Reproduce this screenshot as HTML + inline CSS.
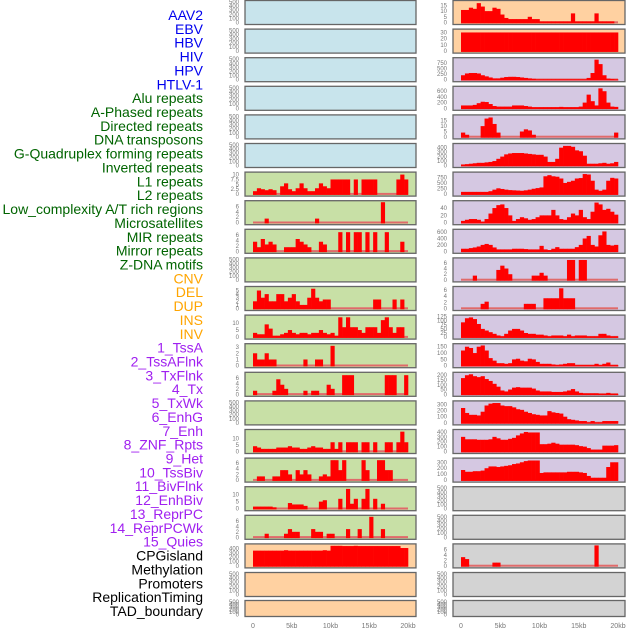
<!DOCTYPE html>
<html><head><meta charset="utf-8"><style>
html,body{margin:0;padding:0;background:#fff;}
svg{display:block;font-family:"Liberation Sans",sans-serif;}
</style></head><body>
<svg id="chart" width="630" height="630" viewBox="0 0 630 630" xmlns="http://www.w3.org/2000/svg"></svg>
<script>
const labels = ["AAV2","EBV","HBV","HIV","HPV","HTLV-1","Alu repeats","A-Phased repeats","Directed repeats","DNA transposons","G-Quadruplex forming repeats","Inverted repeats","L1 repeats","L2 repeats","Low_complexity A/T rich regions","Microsatellites","MIR repeats","Mirror repeats","Z-DNA motifs","CNV","DEL","DUP","INS","INV","1_TssA","2_TssAFlnk","3_TxFlnk","4_Tx","5_TxWk","6_EnhG","7_Enh","8_ZNF_Rpts","9_Het","10_TssBiv","11_BivFlnk","12_EnhBiv","13_ReprPC","14_ReprPCWk","15_Quies","CPGisland","Methylation","Promoters","ReplicationTiming","TAD_boundary"];
const labelColors = ["#0000ee","#0000ee","#0000ee","#0000ee","#0000ee","#0000ee","#006400","#006400","#006400","#006400","#006400","#006400","#006400","#006400","#006400","#006400","#006400","#006400","#006400","#ffa500","#ffa500","#ffa500","#ffa500","#ffa500","#a020f0","#a020f0","#a020f0","#a020f0","#a020f0","#a020f0","#a020f0","#a020f0","#a020f0","#a020f0","#a020f0","#a020f0","#a020f0","#a020f0","#a020f0","#000","#000","#000","#000","#000"];
const xTicks = [0,5,10,15,20];
const xTickLabels = ["0","5kb","10kb","15kb","20kb"];
const emptyTicks = [0,100,200,300,400,500];

const L7 = [1.5,3,2.5,2,2.5,2,0,4,5.5,2.5,1.5,3,5.5,3,1.5,1.5,3,5.5,4,3,7.5,7.5,7.5,7.5,7.5,0,7.5,0,7.5,7.5,7.5,7.5,0,0,0,0,0,7.5,10,7.5];
const L8 = [0,0,0,1.5,0,0,0,0,0,0,0,0,0,0,0,0,1.5,0,0,0,0,0,0,0,0,0,0,0,0,0,0,0,0,7.5,0,0,0,0,0,0];
const L9 = [3.5,1.5,4.5,2.5,3.5,2.5,0,0,1.5,1.5,1.5,4.5,3.5,2.5,1.5,0,0,3.5,2.5,0,0,0,7,0,7,0,7,7,0,7,0,7,0,0,7,0,0,0,3.5,0];
const L11 = [2,5,3,4,2,2,4,4,2,3,4,2,1,1,3,5.5,3,2,2.5,2.5,0,0,0,0,0,0,0,0,0,0,0,2.5,2.5,0,0,0,2.5,0,2.5,0];
const L12 = [3,2,2,9,6,1,1,2,3,5,3,2,3,3,2,3,3,5,3,2,3,1,14,7,14,7,7,5,3,7,7,7,3,12,14,7,3,7,7,0];
const L13 = [2,1,1,2,1,1,0,0,0,0,0,0,0,1,0,0,1,1,0,0,3.2,0,0,0,0,0,0,0,0,0,0,0,0,0,0,0,0,0,0,0];
const L14 = [1.3,0,0,0,0,1.3,5.5,3.5,2,0,0,0,0,1.3,0,1.3,1.3,0,0,3.5,2,0,0,7,7,7,0,0,0,0,0,0,0,0,7,7,7,0,0,7];
const L16 = [4,3,2,2,2,2,3,3,3,4,3,3,2,2,3,4,3,3,2,2,7,2,7,0,7,7,7,0,7,7,0,7,0,0,7,7,0,7,15,7];
const L17 = [0,1.3,1.3,0,0,1.3,1.3,3.5,3.5,2,0,3.5,2,3.5,2,0,0,1.3,2,1.3,7,7,3.5,7,0,0,0,0,7,3.5,0,0,7,7,3.5,3.5,0,0,0,0];
const L18 = [1.5,1.5,1.5,1.5,1.5,1,0,0,0,4,3,3,3,2,0,0,0,5,6,0,0,0,7,0,14,3.5,7,0,7,14,0,7,0,3.5,0,0,0,0,0,0];
const L19 = [0,0,0,1.3,0,0,0,0,1.3,3,2,2,0,0,0,3,2,2,0,1.3,1.3,0,0,0,3,0,0,3,0,0,7.5,0,0,3,0,0,0,0,0,0];
const L20 = [350,350,350,350,350,350,350,350,360,350,350,350,350,350,350,350,350,350,360,350,460,460,460,455,455,455,460,455,455,455,455,455,455,455,455,455,455,455,410,410];

const R1 = [11,11,13,12,17,14,10,10,13,12,7,4,3,3,3,3,3,5,3,3,1,1,1,1,1,1,1,1,8,1,1,1,1,1,8,1,1,1,1,0];
const R2 = [30,30,30,30,30,30,30,30,30,30,30,30,30,30,30,30,30,30,30,30,30,30,30,30,30,30,30,30,30,30,30,30,30,30,30,30,30,30,30,30];
const R3 = [200,280,300,300,280,200,150,100,60,60,90,120,130,130,120,100,80,60,40,20,20,20,20,20,20,20,20,20,20,20,20,20,80,300,900,700,200,50,30,20];
const R4 = [100,100,100,120,180,230,220,150,80,60,60,60,60,100,100,100,80,60,40,40,40,40,40,40,40,50,40,40,40,40,60,200,480,250,100,700,600,200,60,50];
const R5 = [4,2,0,0,0,10,17,18,12,4,0,0,0,0,0,5,7,6,2,0,0,0,0,0,0,0,0,0,0,0,0,0,0,0,0,0,0,0,0,4];
const R6 = [20,30,40,50,60,60,70,80,100,150,200,250,270,280,280,280,270,260,250,240,240,200,80,80,150,400,440,440,420,340,320,220,40,40,40,50,60,40,50,80];
const R7 = [100,100,100,100,100,100,100,130,200,260,230,200,180,170,160,150,170,200,240,270,300,800,850,800,780,700,500,550,600,700,720,900,880,600,200,150,200,600,730,700];
const R8 = [5,8,10,10,8,3,10,25,40,48,50,40,20,5,10,15,12,8,10,15,20,20,20,35,20,10,8,15,25,20,35,15,10,30,55,50,35,38,30,22];
const R9 = [80,80,100,120,150,200,230,200,120,60,60,60,60,80,80,80,70,60,60,60,170,60,40,80,130,80,80,80,80,130,200,400,480,200,150,500,620,200,180,200];
const R10 = [0,0,0,1.5,0,0,0,0,0,3.5,5,4,2,0,0,0,0,0,1.5,1.5,2.5,1.5,0,0,0,0,0,7,7,0,7,7,0,0,0,0,0,0,0,0];
const R11 = [0,0,0,0,0,1.5,2.2,0,0,0,0,0,0,0,0,0,1.5,1.5,1.5,0,0,3.3,3.3,3.3,3.3,6.5,3.3,3.3,3.3,0,0,0,0,0,0,0,0,0,0,0];
const R12 = [90,115,120,110,80,50,40,30,20,10,5,20,40,50,50,40,25,20,20,15,15,10,5,10,10,10,5,15,5,10,10,10,5,5,5,20,20,10,5,5];
const R13 = [120,150,140,100,150,160,120,60,40,20,20,15,20,50,55,40,35,55,50,30,15,15,15,10,5,10,15,20,20,5,5,5,5,5,15,5,15,25,5,5];
const R14 = [170,200,210,190,180,190,160,140,110,80,40,30,50,70,75,70,70,70,60,40,30,30,30,25,25,25,30,40,55,30,15,10,10,10,10,5,5,15,5,5];
const R15 = [240,160,130,130,120,180,280,310,320,320,280,270,270,250,220,210,180,160,140,130,120,120,190,170,160,150,100,60,50,40,30,30,10,30,10,10,30,30,30,30];
const R16 = [300,250,250,250,240,240,240,250,300,270,240,240,260,280,330,370,400,390,390,390,150,150,160,180,160,140,140,140,140,130,110,100,70,40,40,40,120,120,120,130];
const R17 = [170,140,140,150,150,160,200,230,230,220,230,240,250,270,280,300,320,330,330,330,120,130,130,130,130,130,130,140,140,140,130,120,70,40,40,40,40,220,300,300];
const R20 = [3.2,2.5,0,0,0,0,0,0,1.2,1.2,0,0,0,0,0,0,0,0,0,0,0,0,0,0,0,0,0,0,0,0,0,0,0,0,7.5,0,0,0,0,0];

const BLUE="#c8e4ec", GREEN="#c8e0a6", PEACH="#ffd1a1", PURPLE="#d5c8e2", GRAY="#d3d3d3";
const leftPanels = [
 [null,500,emptyTicks,BLUE],[null,500,emptyTicks,BLUE],[null,500,emptyTicks,BLUE],[null,500,emptyTicks,BLUE],[null,500,emptyTicks,BLUE],[null,500,emptyTicks,BLUE],
 [L7,10.5,[0,2.5,5,7.5,10],GREEN],[L8,7.5,[0,2,4,6],GREEN],[L9,7.5,[0,2,4,6],GREEN],[null,500,emptyTicks,GREEN],
 [L11,5.7,[0,1,2,3,4,5],GREEN],[L12,14.5,[0,5,10],GREEN],[L13,3.3,[0,1,2,3],GREEN],[L14,7.5,[0,2,4,6],GREEN],[null,500,emptyTicks,GREEN],
 [L16,15.5,[0,5,10],GREEN],[L17,7.2,[0,2,4,6],GREEN],[L18,14.5,[0,5,10],GREEN],[L19,7.5,[0,2,4,6],GREEN],
 [L20,470,[0,100,200,300,400],PEACH],[null,500,emptyTicks,PEACH],[null,500,emptyTicks,PEACH]
];
const rightPanels = [
 [R1,18,[0,5,10,15],PEACH],[R2,33,[0,10,20,30],PEACH],[R3,920,[0,250,500,750],PURPLE],[R4,720,[0,200,400,600],PURPLE],
 [R5,19,[0,5,10,15],PURPLE],[R6,460,[0,100,200,300,400],PURPLE],[R7,920,[0,250,500,750],PURPLE],[R8,56,[0,20,40],PURPLE],
 [R9,640,[0,200,400,600],PURPLE],[R10,7.2,[0,2,4,6],PURPLE],[R11,6.6,[0,2,4,6],PURPLE],[R12,125,[0,25,50,75,100,125],PURPLE],
 [R13,162,[0,50,100,150],PURPLE],[R14,215,[0,50,100,150,200],PURPLE],[R15,330,[0,100,200,300],PURPLE],[R16,420,[0,100,200,300,400],PURPLE],
 [R17,345,[0,100,200,300],PURPLE],[null,500,emptyTicks,GRAY],[null,500,emptyTicks,GRAY],[R20,7.5,[0,2,4,6],GRAY],[null,500,emptyTicks,GRAY],[null,500,emptyTicks,GRAY]
];

const NS="http://www.w3.org/2000/svg";
const svg=document.getElementById('chart');
function mk(tag,attrs,parent){const e=document.createElementNS(NS,tag);for(const k in attrs)e.setAttribute(k,attrs[k]);(parent||svg).appendChild(e);return e;}

labels.forEach((t,i)=>{
  const e=mk('text',{x:203,y:15+i*13.86+5,'text-anchor':'end','font-size':'14',fill:labelColors[i]});
  e.textContent=t;
  
  
});

function rowGeom(i){ if(i===21) return {top:600.5,h:16}; return {top:0.5+i*28.6,h:24}; }

function drawPanel(p,i,px0,px1,dx0,dx1,side){
  const [series,ymax,ticks,bg]=p; const g=rowGeom(i);
  const grp=mk('g',{});
  
  
  const r=mk('rect',{x:px0,y:g.top,width:px1-px0,height:g.h,fill:bg,stroke:'#666','stroke-width':1.3},grp);
  
  
  const y0=g.top+g.h-2, y1=g.top+1.5;
  const ys=v=>y0-(v/ymax)*(y0-y1);
  const xs=kb=>dx0+(kb/20)*(dx1-dx0);
  ticks.forEach(t=>{
    const e=mk('text',{x:px0-6,y:ys(t)+2,'text-anchor':'end','font-size':'6',fill:'#777'},grp);
    e.textContent=String(t);
    
    
  });
  if(series){
    const base=mk('rect',{x:xs(0),y:y0-1.2,width:xs(20)-xs(0),height:2,fill:'#e06a6a'},grp);
    
    
    const bw=(xs(20)-xs(0))/series.length;
    series.forEach((v,j)=>{
      if(v<=0)return;
      const b=mk('rect',{x:xs(j*20/series.length),y:ys(v),width:bw+0.3,height:y0-ys(v)+0.8,fill:'#ff0000'},grp);
      
      
    });
  }
}
leftPanels.forEach((p,i)=>drawPanel(p,i,245,416,253,408,'left'));
rightPanels.forEach((p,i)=>drawPanel(p,i,453,625,461,618,'right'));

[[253,408],[461,618]].forEach(([a,b],k)=>{
  xTicks.forEach((t,j)=>{
    const e=mk('text',{x:a+(t/20)*(b-a),y:628,'text-anchor':'middle','font-size':'7',fill:'#777'});
    e.textContent=xTickLabels[j];
    
    
  });
});
</script>
</body></html>
